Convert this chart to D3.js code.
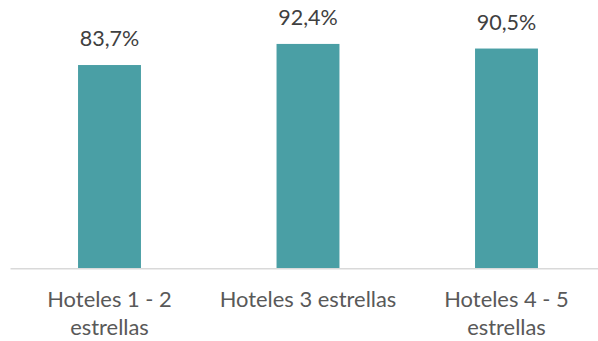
<!DOCTYPE html>
<html><head><meta charset="utf-8">
<script src="https://cdn.jsdelivr.net/npm/d3@7"></script>
<style>html,body{margin:0;padding:0;background:#fff;}svg{display:block;}</style>
</head><body>
<svg id="c" width="598" height="341"></svg>
<script>
const categories = ["Hoteles 1 - 2 estrellas", "Hoteles 3 estrellas", "Hoteles 4 - 5 estrellas"];
const categoryLines = [["Hoteles 1 - 2", "estrellas"], ["Hoteles 3 estrellas"], ["Hoteles 4 - 5", "estrellas"]];
const values = [83.7, 92.4, 90.5];
const valueLabels = ["83,7%", "92,4%", "90,5%"];

const svg = d3.select("#c");
const font = "Lato, 'Open Sans', sans-serif";
const x = d3.scaleBand().domain(categories).range([10.25, 605.75]).paddingInner(0.683).paddingOuter(0.3415);
const y = d3.scaleLinear().domain([0, 100]).range([268, 25.5]);

svg.selectAll("rect.bar").data(values).enter().append("rect")
  .attr("x", (d, i) => x(categories[i]))
  .attr("width", x.bandwidth())
  .attr("y", d => y(d))
  .attr("height", d => y(0) - y(d))
  .attr("fill", "#4A9FA5");

const axis = svg.append("g").attr("transform", `translate(0,${y(0)})`)
  .call(d3.axisBottom(x).tickSize(0).tickFormat(""));
axis.select(".domain").attr("stroke", "#D9D9D9").attr("stroke-width", 1.5)
  .attr("d", "M10.5,0.75H598");

svg.selectAll("text.val").data(values).enter().append("text")
  .attr("x", (d, i) => x(categories[i]) + x.bandwidth() / 2)
  .attr("y", d => y(d) - 19)
  .attr("text-anchor", "middle")
  .attr("font-family", font).attr("font-size", 21.5).attr("fill", "#404040")
  .text((d, i) => valueLabels[i]);

categories.forEach((c, i) => {
  const t = svg.append("text")
    .attr("x", x(c) + x.bandwidth() / 2)
    .attr("y", 306.5)
    .attr("text-anchor", "middle")
    .attr("font-family", font).attr("font-size", 21.9).attr("fill", "#595959");
  categoryLines[i].forEach((ln, j) => {
    t.append("tspan").attr("x", x(c) + x.bandwidth() / 2).attr("dy", j === 0 ? 0 : 28.5).text(ln);
  });
});
</script>
</body></html>
